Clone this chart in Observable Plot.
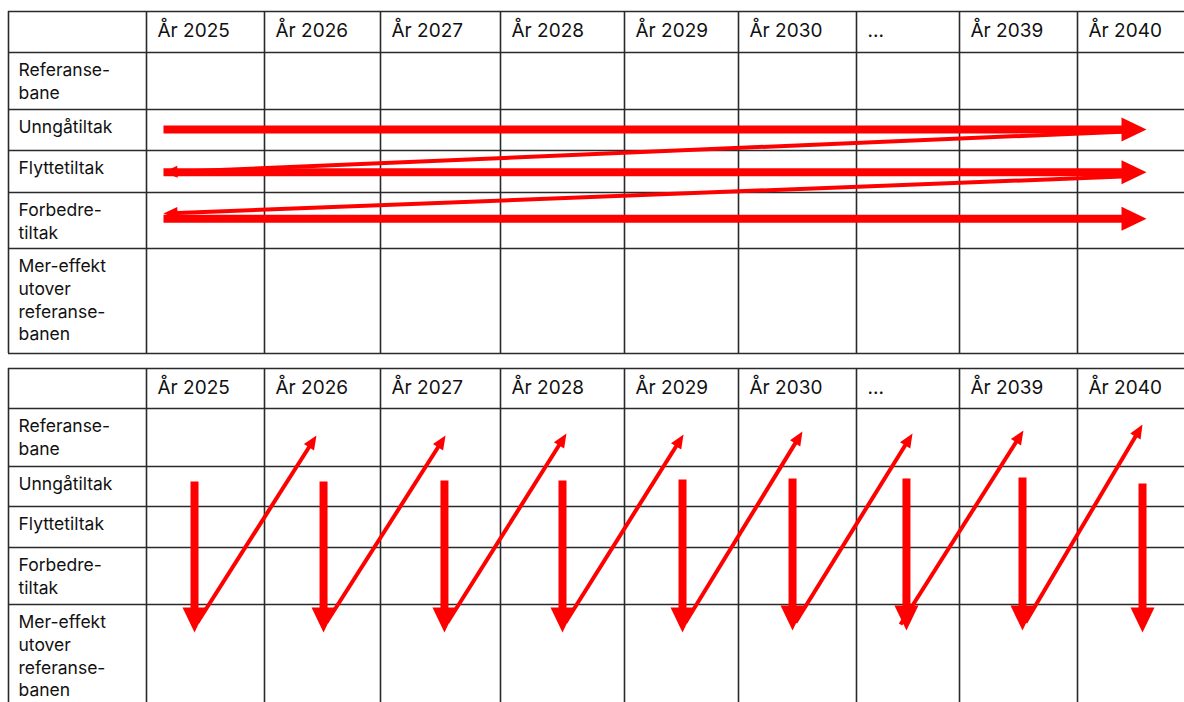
<!DOCTYPE html>
<html>
<head>
<meta charset="utf-8">
<script src="https://cdn.jsdelivr.net/npm/d3@7"></script>
<script src="https://cdn.jsdelivr.net/npm/@observablehq/plot@0.6"></script>
<style>
  html, body { margin: 0; padding: 0; background: #fff; overflow: hidden; }
  #chart { width: 1184px; height: 702px; }
</style>
</head>
<body>
<div id="chart"></div>
<script>
// ---- Categories ----
const years = ["År 2025", "År 2026", "År 2027", "År 2028", "År 2029", "År 2030", "...", "År 2039", "År 2040"];
const rowLabels = ["Referanse-\nbane", "Unngåtiltak", "Flyttetiltak", "Forbedre-\ntiltak", "Mer-effekt\nutover\nreferanse-\nbanen"];
const tables = [0, 7]; // first row-edge index of the upper and lower table

// ---- Upper table: sweeps along each measure row, thin return arrows (column / row units) ----
const sweepX1 = [1.144, 1.144, 1.144];
const sweepX2 = [9.585, 9.585, 9.585];
const sweepY = [2.49, 3.52, 4.47];
const returnX1 = [9.38, 9.38];
const returnY1 = [2.54, 3.62];
const returnX2 = [1.144, 1.144];
const returnY2 = [3.52, 4.375];

// ---- Lower table: drops in each year, thin rises to the next year (column / row units) ----
const dropX = [1.407, 2.509, 3.533, 4.5, 5.509, 6.458, 7.485, 8.534, 9.551];
const dropY1 = [9.375, 9.375, 9.35, 9.35, 9.325, 9.3, 9.3, 9.275, 9.425];
const dropY2 = [12.267, 12.267, 12.267, 12.267, 12.267, 12.248, 12.248, 12.248, 12.267];
const riseX1 = [1.432, 2.534, 3.558, 4.524, 5.535, 6.483, 7.427, 8.559];
const riseY1 = [12.171, 12.171, 12.171, 12.171, 12.171, 12.171, 12.19, 12.171];
const riseX2 = [2.448, 3.542, 4.532, 5.518, 6.542, 7.544, 8.542, 9.551];
const riseY2 = [8.466, 8.466, 8.431, 8.448, 8.397, 8.431, 8.379, 8.276];

// ---- Build tables for the marks ----
const colEdges = d3.range(years.length + 2);      // 0..10
const rowEdges = d3.range(rowLabels.length + 2);  // 0..6
const lastCol = colEdges.length - 1;
const lastRow = rowEdges.length - 1;

const vLines = tables.flatMap(t => colEdges.map(c => ({x: c, y1: t, y2: t + lastRow})));
const hLines = tables.flatMap(t => rowEdges.map(r => ({y: t + r})));
const headers = tables.flatMap(t => years.map((label, i) => ({label, x: i + 1, y: t})));
const rowTexts = tables.flatMap(t => rowLabels.map((label, i) => ({label, x: 0, y: t + i + 1})));

const thick = [
  ...sweepY.map((y, i) => ({x1: sweepX1[i], y1: y, x2: sweepX2[i], y2: y})),
  ...dropX.map((x, i) => ({x1: x, y1: dropY1[i], x2: x, y2: dropY2[i]}))
];
const thin = [
  ...returnX1.map((x, i) => ({x1: x, y1: returnY1[i], x2: returnX2[i], y2: returnY2[i]})),
  ...riseX1.map((x, i) => ({x1: x, y1: riseY1[i], x2: riseX2[i], y2: riseY2[i]}))
];

// ---- Scales (piecewise: the table's column and row edges) ----
const xOpts = {type: "linear", domain: colEdges, range: [8, 146, 264, 380, 500, 624, 738, 856, 959, 1077, 1195]};
const yOpts = {type: "linear", domain: d3.range(14), range: [11, 52, 109, 150, 192, 248, 353, 368, 408, 466, 506, 547, 604, 709]};
const sx = Plot.scale({x: xOpts});
const sy = Plot.scale({y: yOpts});
const angle = d => Math.atan2(sy.apply(d.y2) - sy.apply(d.y1), sx.apply(d.x2) - sx.apply(d.x1)) * 180 / Math.PI;

// filled triangular arrow head, tip at the origin, pointing right
const head = (L, W) => ({
  draw(ctx) { ctx.moveTo(0, 0); ctx.lineTo(-L, -W / 2); ctx.lineTo(-L, W / 2); ctx.closePath(); }
});

const RED = "#ff0000";
const GRID = "#2a2a2a";
const FONT = "Inter, 'Liberation Sans', sans-serif";

const chart = Plot.plot({
  width: 1184,
  height: 702,
  margin: 0,
  x: {...xOpts, axis: null},
  y: {...yOpts, axis: null},
  style: {background: "#fff", overflow: "visible"},
  marks: [
    Plot.ruleX(vLines, {x: "x", y1: "y1", y2: "y2", stroke: GRID, strokeWidth: 1.6}),
    Plot.ruleY(hLines, {y: "y", x1: () => 0, x2: () => lastCol, stroke: GRID, strokeWidth: 1.6}),
    Plot.text(headers, {x: "x", y: "y", text: "label", textAnchor: "start", lineAnchor: "top",
      dx: 11, dy: 12, fontSize: 19, fontFamily: FONT, fill: "#111"}),
    Plot.text(rowTexts, {x: "x", y: "y", text: "label", textAnchor: "start", lineAnchor: "top",
      dx: 10, dy: 7.6, fontSize: 17.5, lineHeight: 1.3, fontFamily: FONT, fill: "#111"}),
    // thin arrows
    Plot.arrow(thin, {x1: "x1", y1: "y1", x2: "x2", y2: "y2", stroke: RED, strokeWidth: 4,
      headLength: 0, insetEnd: 8, strokeLinecap: "butt"}),
    Plot.dot(thin, {x: "x2", y: "y2", symbol: head(14, 12), rotate: angle, fill: RED, stroke: "none"}),
    // thick arrows
    Plot.arrow(thick, {x1: "x1", y1: "y1", x2: "x2", y2: "y2", stroke: RED, strokeWidth: 8,
      headLength: 0, insetEnd: 20, strokeLinecap: "butt"}),
    Plot.dot(thick, {x: "x2", y: "y2", symbol: head(25, 24), rotate: angle, fill: RED, stroke: "none"})
  ]
});
document.getElementById("chart").appendChild(chart);
</script>
</body>
</html>
